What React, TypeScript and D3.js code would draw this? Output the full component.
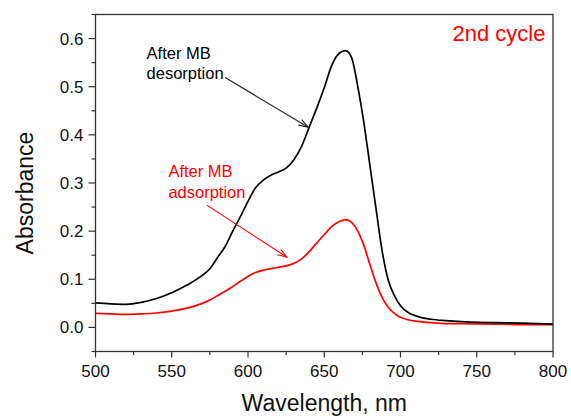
import React from "react";
import * as d3 from "d3";

const wavelengths = [500, 510, 520, 530, 540, 550, 560, 570, 575, 580, 585, 590, 595, 600, 605, 610, 615, 620, 625, 630, 635, 640, 645, 650, 655, 660, 664, 668, 672, 676, 680, 684, 688, 692, 696, 700, 705, 710, 720, 730, 740, 760, 780, 800];
const desorption = [0.051, 0.049, 0.048, 0.052, 0.060, 0.072, 0.088, 0.108, 0.122, 0.145, 0.168, 0.200, 0.230, 0.262, 0.290, 0.306, 0.316, 0.323, 0.331, 0.348, 0.375, 0.415, 0.455, 0.498, 0.545, 0.570, 0.575, 0.560, 0.500, 0.425, 0.335, 0.245, 0.158, 0.098, 0.066, 0.045, 0.031, 0.024, 0.017, 0.014, 0.012, 0.010, 0.009, 0.007];
const adsorption = [0.029, 0.028, 0.027, 0.028, 0.030, 0.034, 0.040, 0.050, 0.057, 0.066, 0.075, 0.085, 0.096, 0.106, 0.114, 0.119, 0.122, 0.125, 0.128, 0.133, 0.142, 0.157, 0.175, 0.193, 0.210, 0.220, 0.224, 0.218, 0.200, 0.170, 0.130, 0.092, 0.062, 0.042, 0.029, 0.021, 0.016, 0.013, 0.010, 0.008, 0.008, 0.007, 0.006, 0.006];

const xMajorTicks = [500, 550, 600, 650, 700, 750, 800];
const xMinorTicks = [525, 575, 625, 675, 725, 775];
const yMajorTicks = [0.0, 0.1, 0.2, 0.3, 0.4, 0.5, 0.6];
const yMinorTicks = [-0.05, 0.05, 0.15, 0.25, 0.35, 0.45, 0.55, 0.65];

const xLabel = "Wavelength, nm";
const yLabel = "Absorbance";
const cycleLabel = "2nd cycle";
const desLabel = ["After MB", "desorption"];
const adsLabel = ["After MB", "adsorption"];
// annotation anchors in data units
const desAnno = { tx: 533.5, ty: [0.557, 0.517], from: [585, 0.519], to: [639.5, 0.416] };
const adsAnno = { tx: 547.8, ty: [0.312, 0.269], from: [573, 0.254], to: [625.5, 0.146] };
const cycleAnno = { tx: 795, ty: 0.594 };

const W = 571, H = 418;
const M = { left: 95.5, right: 18, top: 14.5, bottom: 66.5 };
const FONT = "Arial, 'Liberation Sans', sans-serif";

function Arrow({ x1, y1, x2, y2, color }: any) {
  const ang = Math.atan2(y2 - y1, x2 - x1);
  const L = 10, a = 0.33;
  const p1 = [x2 - L * Math.cos(ang - a), y2 - L * Math.sin(ang - a)];
  const p2 = [x2 - L * Math.cos(ang + a), y2 - L * Math.sin(ang + a)];
  return (
    <g stroke={color} strokeWidth={1.1} fill="none">
      <line x1={x1} y1={y1} x2={x2} y2={y2} />
      <polyline points={`${p1[0]},${p1[1]} ${x2},${y2} ${p2[0]},${p2[1]}`} />
    </g>
  );
}

export default function App() {
  const x = d3.scaleLinear().domain([500, 800]).range([M.left, W - M.right]);
  const y = d3.scaleLinear().domain([-0.05, 0.65]).range([H - M.bottom, M.top]);
  const line = (vals: number[]) =>
    d3.line<number>().x((_, i) => x(wavelengths[i])).y((v) => y(v)).curve(d3.curveMonotoneX)(vals) || "";

  const x0 = M.left, x1 = W - M.right, y0 = H - M.bottom, y1 = M.top;
  return (
    <svg width={W} height={H} style={{ position: "absolute", left: 0, top: 0, background: "#fff" }} fontFamily={FONT}>
      <rect x={0} y={0} width={W} height={H} fill="#fff" />
      <path d={line(adsorption)} fill="none" stroke="#ff0000" strokeWidth={1.7} />
      <path d={line(desorption)} fill="none" stroke="#000" strokeWidth={1.7} />
      <rect x={x0} y={y1} width={x1 - x0} height={y0 - y1} fill="none" stroke="#333" strokeWidth={1.3} />
      {xMajorTicks.map((t) => (
        <g key={"xM" + t}>
          <line x1={x(t)} x2={x(t)} y1={y0} y2={y0 + 6} stroke="#333" strokeWidth={1.2} />
          <text x={x(t)} y={y0 + 25} fontSize={17} textAnchor="middle" fill="#111">{t}</text>
        </g>
      ))}
      {xMinorTicks.map((t) => (
        <line key={"xm" + t} x1={x(t)} x2={x(t)} y1={y0} y2={y0 + 3.5} stroke="#333" strokeWidth={1.2} />
      ))}
      {yMajorTicks.map((t) => (
        <g key={"yM" + t}>
          <line x1={x0 - 7} x2={x0} y1={y(t)} y2={y(t)} stroke="#333" strokeWidth={1.2} />
          <text x={x0 - 12} y={y(t) + 6} fontSize={17} textAnchor="end" fill="#111">{t.toFixed(1)}</text>
        </g>
      ))}
      {yMinorTicks.map((t) => (
        <line key={"ym" + t} x1={x0 - 4} x2={x0} y1={y(t)} y2={y(t)} stroke="#333" strokeWidth={1.2} />
      ))}
      <text x={(x0 + x1) / 2} y={411} fontSize={23} textAnchor="middle" fill="#111">{xLabel}</text>
      <text transform={`translate(32.5,193) rotate(-90)`} fontSize={23} textAnchor="middle" fill="#111">{yLabel}</text>

      <text x={x(cycleAnno.tx)} y={y(cycleAnno.ty)} fontSize={22} textAnchor="end" fill="#ff0000">{cycleLabel}</text>

      {desLabel.map((s, i) => (
        <text key={"d" + i} x={x(desAnno.tx)} y={y(desAnno.ty[i])} fontSize={16.5} fill="#000">{s}</text>
      ))}
      <Arrow x1={x(desAnno.from[0])} y1={y(desAnno.from[1])} x2={x(desAnno.to[0])} y2={y(desAnno.to[1])} color="#222" />

      {adsLabel.map((s, i) => (
        <text key={"a" + i} x={x(adsAnno.tx)} y={y(adsAnno.ty[i])} fontSize={16.5} fill="#ff0000">{s}</text>
      ))}
      <Arrow x1={x(adsAnno.from[0])} y1={y(adsAnno.from[1])} x2={x(adsAnno.to[0])} y2={y(adsAnno.to[1])} color="#ff0000" />
    </svg>
  );
}
